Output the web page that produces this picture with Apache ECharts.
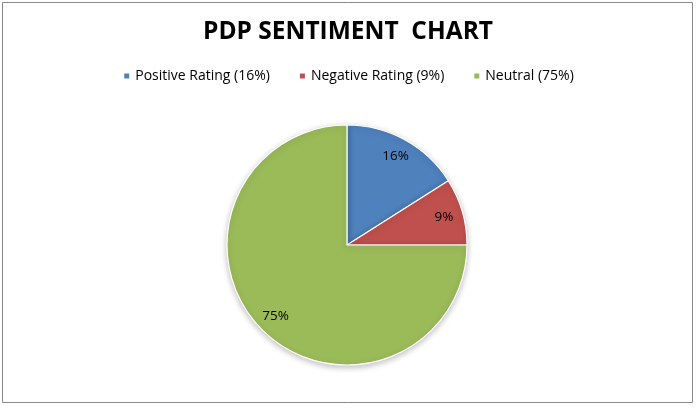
<!DOCTYPE html>
<html><head><meta charset="utf-8">
<script src="https://cdn.jsdelivr.net/npm/echarts@6/dist/echarts.min.js"></script>
<style>html,body{margin:0;padding:0;background:#fff}#c{width:696px;height:408px}</style>
</head><body><div id="c"></div>
<script>
const categories = ['Positive Rating (16%)', 'Negative Rating (9%)', 'Neutral (75%)'];
const values = [16, 9, 75];
const labels = ['16%', '9%', '75%'];
const colors = ['#4F81BD', '#C0504D', '#9BBB59'];

const chart = echarts.init(document.getElementById('c'));
const data = categories.map((n, i) => ({ name: n, value: values[i], itemStyle: { color: colors[i] } }));
const font = '"Open Sans", "Liberation Sans", sans-serif';
chart.setOption({
  animation: false,
  title: {
    text: 'PDP SENTIMENT  CHART', left: 'center', top: 15,
    textStyle: { fontFamily: font, fontSize: 24.5, fontWeight: 'bold', color: '#000' }
  },
  legend: {
    top: 64, left: 'center', itemWidth: 7, itemHeight: 7, itemGap: 28, icon: 'rect',
    textStyle: { fontFamily: font, fontSize: 14, color: '#000' },
    data: categories
  },
  graphic: [{
    type: 'rect', shape: { x: 2.5, y: 2.5, width: 690, height: 400 },
    style: { fill: 'none', stroke: '#888', lineWidth: 1 }, silent: true
  }],
  series: [{
    type: 'pie', center: [347, 245], radius: [0, 120], startAngle: 90, clockwise: true,
    label: { show: false }, labelLine: { show: false },
    itemStyle: { borderColor: '#fff', borderWidth: 1.2, shadowBlur: 6, shadowColor: 'rgba(0,0,0,0.25)', shadowOffsetY: 2 },
    data: data
  }, {
    type: 'pie', center: [347, 245], radius: [76, 120], startAngle: 90, clockwise: true, silent: true,
    itemStyle: { color: 'rgba(0,0,0,0)' },
    label: { show: true, position: 'inside', formatter: p => labels[p.dataIndex], fontFamily: font, fontSize: 13.5, color: '#000' },
    labelLine: { show: false },
    data: categories.map((n, i) => ({ name: n, value: values[i], itemStyle: { color: 'rgba(0,0,0,0)' } }))
  }]
});
</script></body></html>
